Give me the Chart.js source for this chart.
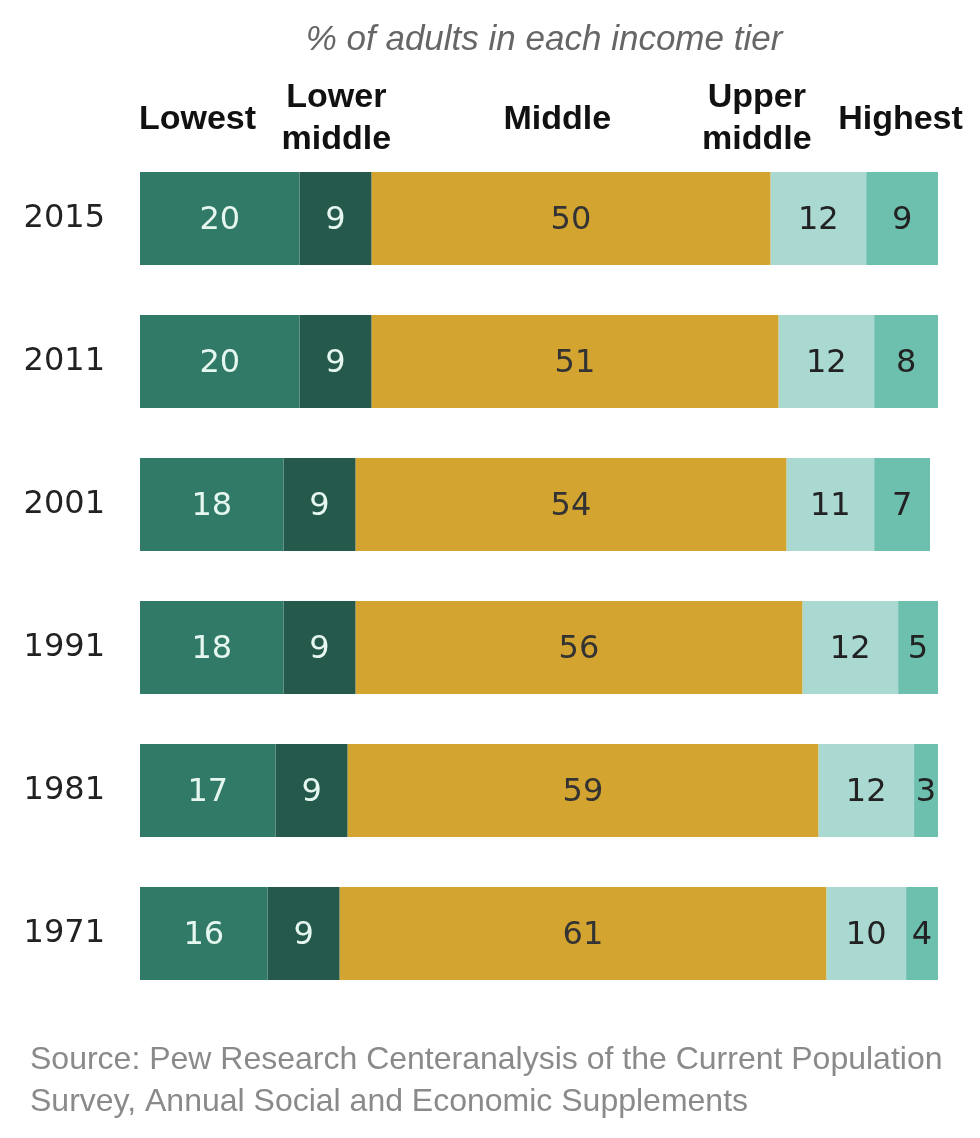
<!DOCTYPE html>
<html>
<head>
<meta charset="utf-8">
<script src="https://cdn.jsdelivr.net/npm/chart.js@4"></script>
<style>
  html, body { margin: 0; padding: 0; background: #fff; }
  #wrap { width: 980px; height: 1138px; position: relative; }
</style>
</head>
<body>
<div id="wrap"><canvas id="chart"></canvas></div>
<script>
const years = ['2015', '2011', '2001', '1991', '1981', '1971'];
const tiers = ['Lowest', 'Lower middle', 'Middle', 'Upper middle', 'Highest'];
const lowest = [20, 20, 18, 18, 17, 16];
const lowerMiddle = [9, 9, 9, 9, 9, 9];
const middle = [50, 51, 54, 56, 59, 61];
const upperMiddle = [12, 12, 11, 12, 12, 10];
const highest = [9, 8, 7, 5, 3, 4];

const title = '% of adults in each income tier';
const source = ['Source: Pew Research Centeranalysis of the Current Population',
                'Survey, Annual Social and Economic Supplements'];

const colors = ['#317a67', '#25594b', '#d3a42f', '#a9d9d1', '#6dbfae'];
const labelColors = ['#e6f7f0', '#e6f7f0', '#333333', '#222222', '#222222'];

// header labels, x in % of the bar, split in lines
const headers = [
  {lines: ['Lowest'], x: 7.2},
  {lines: ['Lower', 'middle'], x: 24.6},
  {lines: ['Middle'], x: 52.3},
  {lines: ['Upper', 'middle'], x: 77.3},
  {lines: ['Highest'], x: 95.3}
];

const sans = '"Liberation Sans", sans-serif';

const textPlugin = {
  id: 'texts',
  afterDatasetsDraw(chart) {
    const ctx = chart.ctx;
    const xs = chart.scales.x;
    ctx.save();

    // values inside the bars
    ctx.font = '32px "DejaVu Sans"';
    ctx.textAlign = 'center';
    ctx.textBaseline = 'middle';
    chart.data.datasets.forEach((ds, i) => {
      chart.getDatasetMeta(i).data.forEach((bar, j) => {
        const x = (bar.x + bar.base) / 2;
        ctx.fillStyle = labelColors[i];
        ctx.fillText(ds.data[j], x, bar.y + 2);
      });
    });

    // column headers
    ctx.fillStyle = '#111';
    ctx.font = 'bold 34px ' + sans;
    headers.forEach(h => {
      const x = xs.getPixelForValue(h.x);
      if (h.lines.length === 1) {
        ctx.fillText(h.lines[0], x, 120);
      } else {
        ctx.fillText(h.lines[0], x, 98);
        ctx.fillText(h.lines[1], x, 140);
      }
    });

    // subtitle
    ctx.fillStyle = '#666';
    ctx.font = 'italic 35px ' + sans;
    ctx.fillText(title, 544, 40);

    // source note
    ctx.fillStyle = '#8a8a8a';
    ctx.textAlign = 'left';
    ctx.font = '32px ' + sans;
    ctx.fillText(source[0], 30, 1060);
    ctx.fillText(source[1], 30, 1102);
    ctx.restore();
  }
};

function buildDatasets() {
  const series = [lowest, lowerMiddle, middle, upperMiddle, highest];
  return series.map((data, i) => ({
    label: tiers[i],
    data: data,
    backgroundColor: colors[i],
    borderWidth: 0,
    barPercentage: 1,
    categoryPercentage: 0.65
  }));
}

function init() {
  const ctx = document.getElementById('chart').getContext('2d');
  new Chart(ctx, {
    type: 'bar',
    data: {
      labels: years,
      datasets: buildDatasets()
    },
    options: {
      indexAxis: 'y',
      responsive: true,
      maintainAspectRatio: false,
      animation: false,
      layout: {
        padding: {top: 147, bottom: 133, right: 42, left: 0}
      },
      plugins: {
        legend: {display: false},
        tooltip: {enabled: false}
      },
      scales: {
        x: {
          stacked: true,
          min: 0,
          max: 100,
          display: false
        },
        y: {
          stacked: true,
          grid: {display: false},
          border: {display: false},
          afterFit: s => { s.width = 140; },
          ticks: {
            color: '#222',
            padding: 27,
            font: {family: 'DejaVu Sans', size: 32}
          }
        }
      }
    },
    plugins: [textPlugin]
  });
}

init();
</script>
</body>
</html>
